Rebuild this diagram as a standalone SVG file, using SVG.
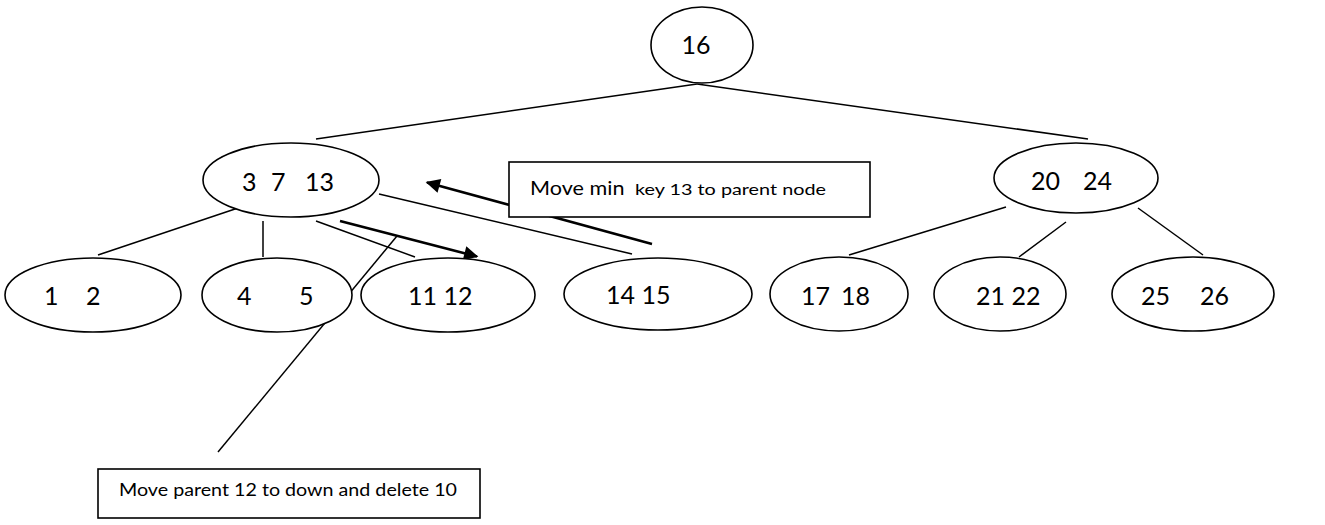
<svg xmlns="http://www.w3.org/2000/svg" width="1325" height="525" viewBox="0 0 1325 525">
<style>
.n{fill:#fff;stroke:#000;stroke-width:1.6}
.t{font-family:Lato,"Liberation Sans",sans-serif;font-size:25px;fill:#000}
.e{stroke:#000;stroke-width:1.5;fill:none}
.a{stroke:#000;stroke-width:2.6;fill:none}
.b{fill:#fff;stroke:#000;stroke-width:1.6}
.bt{font-family:Lato,"Liberation Sans",sans-serif;fill:#000}
</style>
<defs>
<marker id="ah" viewBox="0 0 10 10" refX="9" refY="5" markerWidth="6.5" markerHeight="5.5" markerUnits="strokeWidth" orient="auto">
<path d="M0,0 L10,5 L0,10 z" fill="#000"/>
</marker>
</defs>
<rect width="1325" height="525" fill="#fff"/>
<g id="connectors">
<line class="e" x1="697" y1="84" x2="316" y2="139"/>
<line class="e" x1="697" y1="84" x2="1088" y2="139"/>
<line class="e" x1="238" y1="208" x2="98" y2="255"/>
<line class="e" x1="263" y1="221" x2="263" y2="257"/>
<line class="e" x1="316" y1="221" x2="415" y2="257"/>
<line class="e" x1="379" y1="194" x2="632" y2="254"/>
<line class="e" x1="1006" y1="207" x2="849" y2="255"/>
<line class="e" x1="1066" y1="222" x2="1019" y2="257"/>
<line class="e" x1="1138" y1="208" x2="1203" y2="255"/>
<line class="e" x1="397" y1="236" x2="218" y2="452"/>
<line class="a" x1="340" y1="221" x2="477" y2="256.5" marker-end="url(#ah)"/>
<line class="a" x1="652" y1="244" x2="427" y2="182.5" marker-end="url(#ah)"/>
</g>
<g id="node-16"><ellipse class="n" cx="702" cy="45" rx="51" ry="38"/><text class="t" x="696" y="54" text-anchor="middle">16</text></g>
<g id="node-3-7-13"><ellipse class="n" cx="291" cy="180" rx="88" ry="37"/><text class="t" y="191"><tspan x="242">3 </tspan><tspan x="271">7 </tspan><tspan x="305">13</tspan></text></g>
<g id="node-20-24"><ellipse class="n" cx="1076" cy="178" rx="82" ry="35"/><text class="t" y="190"><tspan x="1031">20 </tspan><tspan x="1083">24</tspan></text></g>
<g id="node-1-2"><ellipse class="n" cx="93" cy="295" rx="88" ry="37"/><text class="t" y="305"><tspan x="44">1 </tspan><tspan x="86">2</tspan></text></g>
<g id="node-4-5"><ellipse class="n" cx="277" cy="295" rx="75" ry="37"/><text class="t" y="305"><tspan x="237">4 </tspan><tspan x="299">5</tspan></text></g>
<g id="node-11-12"><ellipse class="n" cx="448" cy="295" rx="87" ry="37"/><text class="t" x="408" y="305">11 12</text></g>
<g id="node-14-15"><ellipse class="n" cx="658" cy="294" rx="94" ry="36"/><text class="t" x="606" y="304">14 15</text></g>
<g id="node-17-18"><ellipse class="n" cx="839" cy="294" rx="69" ry="37"/><text class="t" y="305"><tspan x="801">17 </tspan><tspan x="841">18</tspan></text></g>
<g id="node-21-22"><ellipse class="n" cx="1000" cy="294" rx="66" ry="37"/><text class="t" x="976" y="305">21 22</text></g>
<g id="node-25-26"><ellipse class="n" cx="1193" cy="294" rx="81" ry="37"/><text class="t" y="305"><tspan x="1141">25 </tspan><tspan x="1200">26</tspan></text></g>
<g id="note-min-key">
<rect class="b" x="509" y="162" width="361" height="55"/>
<text class="bt" y="195"><tspan x="530" font-size="19" textLength="100" lengthAdjust="spacingAndGlyphs">Move min </tspan><tspan x="635" font-size="16" textLength="191" lengthAdjust="spacingAndGlyphs">key 13 to parent node</tspan></text>
</g>
<g id="note-parent">
<rect class="b" x="98" y="469" width="382" height="49"/>
<text class="bt" x="119" y="496" font-size="17" textLength="338" lengthAdjust="spacingAndGlyphs">Move parent 12 to down and delete 10</text>
</g>
</svg>
